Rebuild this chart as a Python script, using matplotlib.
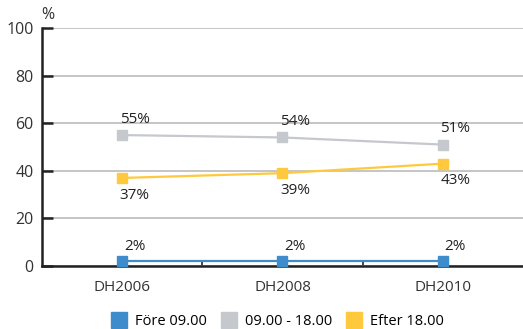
import numpy as np
import matplotlib.pyplot as plt
from matplotlib.lines import Line2D

plt.rcParams['font.family'] = ['Open Sans', 'DejaVu Sans']

years = ['DH2006', 'DH2008', 'DH2010']
fore = [2, 2, 2]
dag = [55, 54, 51]
efter = [37, 39, 43]
series_names = ['Före 09.00', '09.00 - 18.00', 'Efter 18.00']
colors = ['#3f8ccc', '#c5c8cc', '#fec93d']

fig = plt.figure(figsize=(5.23, 3.29), dpi=100)
ax = fig.add_axes([0.0803, 0.1915, 0.925, 0.7235])

x = np.arange(len(years))
for vals, col in zip([fore, dag, efter], colors):
    ax.plot(x, vals, color=col, lw=1.6, marker='s', markersize=7.5, zorder=3)

# value labels: above for blue and grey, below for yellow
lab = dict(fontsize=11, color='#222222', ha='center', textcoords='offset points')
for i in x:
    ax.annotate(f'{fore[i]}%', (i, fore[i]), xytext=(9, 5), va='bottom', **lab)
    ax.annotate(f'{dag[i]}%', (i, dag[i]), xytext=(9, 6), va='bottom', **lab)
    ax.annotate(f'{efter[i]}%', (i, efter[i]), xytext=(9, -7), va='top', **lab)

ax.set_xlim(-0.5, 2.5175)
ax.set_ylim(0, 100)
ax.set_yticks(range(0, 101, 20))
ax.set_xticks(x)
ax.set_xticklabels(years, fontsize=11, color='#333333')
ax.set_xticks([0.5, 1.5], minor=True)
ax.tick_params(axis='x', which='major', length=0, pad=10)
ax.tick_params(axis='x', which='minor', direction='in', length=4, width=1.2, color='#222222')
ax.tick_params(axis='y', direction='in', length=8, width=1.8, color='#222222',
               labelsize=11.5, labelcolor='#333333', pad=6)
ax.yaxis.grid(True, color='#b5b5b5', lw=1.1)
ax.set_axisbelow(True)

for side in ['top', 'right']:
    ax.spines[side].set_visible(False)
for side in ['left', 'bottom']:
    ax.spines[side].set_linewidth(1.8)
    ax.spines[side].set_color('#222222')

fig.text(0.092, 0.955, '%', fontsize=11.5, color='#333333', ha='center', va='center')

handles = [Line2D([], [], ls='none', marker='s', markersize=12, color=c) for c in colors]
fig.legend(handles, series_names, loc='lower center', bbox_to_anchor=(0.53, -0.04),
           ncol=3, frameon=False, fontsize=10.5, handletextpad=0.5, columnspacing=0.9,
           handlelength=1.2)

fig.savefig('out.png', dpi=100)
